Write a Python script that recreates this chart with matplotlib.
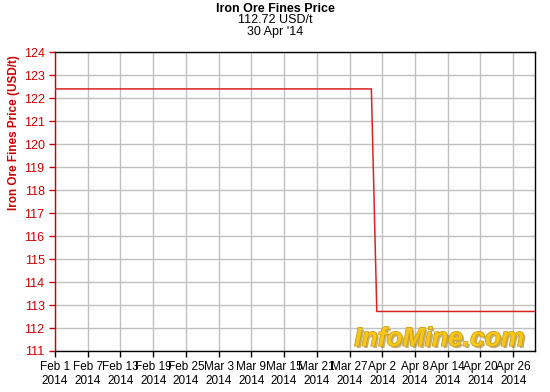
import matplotlib
matplotlib.use("Agg")
import matplotlib.pyplot as plt
import matplotlib.patheffects as pe
import numpy as np

plt.rcParams['font.family'] = ['Liberation Sans', 'DejaVu Sans']

# price series (step on Apr 1)
dates = np.array(['2014-02-01', '2014-03-31', '2014-04-01', '2014-04-30'], dtype='datetime64[D]')
prices = [122.4, 122.4, 112.72, 112.72]

tick_dates = np.array(['2014-02-01', '2014-02-07', '2014-02-13', '2014-02-19', '2014-02-25',
                       '2014-03-03', '2014-03-09', '2014-03-15', '2014-03-21', '2014-03-27',
                       '2014-04-02', '2014-04-08', '2014-04-14', '2014-04-20', '2014-04-26'],
                      dtype='datetime64[D]')
tick_labels = ['Feb 1\n2014', 'Feb 7\n2014', 'Feb 13\n2014', 'Feb 19\n2014', 'Feb 25\n2014',
               'Mar 3\n2014', 'Mar 9\n2014', 'Mar 15\n2014', 'Mar 21\n2014', 'Mar 27\n2014',
               'Apr 2\n2014', 'Apr 8\n2014', 'Apr 14\n2014', 'Apr 20\n2014', 'Apr 26\n2014']
y_ticks = list(range(111, 125))

red = '#cc0000'

fig = plt.figure(figsize=(5.5, 3.92), dpi=100)
ax = fig.add_axes((0.1, 0.1046, 0.8727, 0.7624))

ax.plot(dates, prices, color='#dd2222', lw=1.1, zorder=3)

ax.set_xlim(np.datetime64('2014-02-01'), np.datetime64('2014-04-30'))
ax.set_ylim(111, 124)
ax.set_xticks(tick_dates)
ax.set_xticklabels(tick_labels, fontsize=8.5, linespacing=1.25)
ax.set_yticks(y_ticks)
ax.tick_params(axis='y', colors=red, labelsize=9, length=4, width=1)
ax.tick_params(axis='x', colors='black', length=4, width=1, pad=3)
ax.grid(True, color='#c0c0c0', lw=1)
ax.set_axisbelow(True)

ax.spines['left'].set_color(red)
for s in ['top', 'right', 'bottom']:
    ax.spines[s].set_color('black')
for s in ax.spines.values():
    s.set_linewidth(1)

ax.set_ylabel('Iron Ore Fines Price (USD/t)', color=red, fontweight='bold', fontsize=8.5, loc='top')
ax.yaxis.set_label_coords(-0.072, 0.99)

fig.text(0.5, 0.978, 'Iron Ore Fines Price', ha='center', va='center', fontsize=9, fontweight='bold')
fig.text(0.5, 0.948, '112.72 USD/t', ha='center', va='center', fontsize=9)
fig.text(0.5, 0.918, "30 Apr '14", ha='center', va='center', fontsize=9)

# watermark
ax.text(0.978, 0.017, 'InfoMine.com', transform=ax.transAxes, ha='right', va='baseline',
        fontsize=19, fontweight='bold', style='italic', color='#f7c61a', zorder=4,
        path_effects=[pe.withSimplePatchShadow(offset=(1.5, -1.5), shadow_rgbFace='#a08020', alpha=0.6),
                      pe.withStroke(linewidth=1, foreground='#c89a10')])

fig.savefig('out.png', dpi=100)
